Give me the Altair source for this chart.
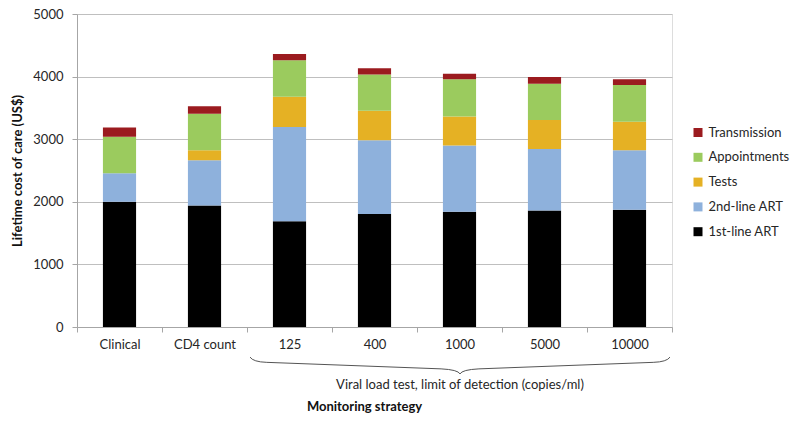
import altair as alt
import pandas as pd

strategies = ["Clinical", "CD4 count", "125", "400", "1000", "5000", "10000"]
first_line = [2000, 1940, 1690, 1805, 1840, 1860, 1875]
second_line = [455, 725, 1505, 1180, 1060, 985, 950]
tests = [0, 158, 484, 469, 463, 463, 453]
appointments = [585, 584, 584, 579, 595, 579, 589]
transmission = [147, 121, 100, 100, 89, 105, 90]

components = ["Transmission", "Appointments", "Tests", "2nd-line ART", "1st-line ART"]
colors = ["#9B1B1F", "#9BCB5E", "#E5B124", "#8EB1DC", "#000000"]
stack_order = {"1st-line ART": 0, "2nd-line ART": 1, "Tests": 2, "Appointments": 3, "Transmission": 4}

series = {
    "1st-line ART": first_line,
    "2nd-line ART": second_line,
    "Tests": tests,
    "Appointments": appointments,
    "Transmission": transmission,
}

rows = []
for comp, vals in series.items():
    for s, v in zip(strategies, vals):
        rows.append({"strategy": s, "component": comp, "value": v, "order": stack_order[comp]})
df = pd.DataFrame(rows)

FONT = "Lato"
TXT = "#262626"

bars = alt.Chart(df).mark_bar(width=alt.RelativeBandSize(0.39)).encode(
    x=alt.X(
        "strategy:N",
        sort=strategies,
        scale=alt.Scale(paddingInner=0, paddingOuter=0),
        axis=alt.Axis(
            tickBand="extent",
            labelAngle=0,
            labelFont=FONT,
            labelFontSize=13,
            labelColor=TXT,
            labelPadding=6,
            tickSize=5,
            tickColor="#A6A6A6",
            domainColor="#A6A6A6",
            title="Monitoring strategy",
            titleFont=FONT,
            titleFontSize=13,
            titleFontWeight="bold",
            titleColor="#111111",
            titleX=287,
            titleY=79,
            titleAlign="center",
            titleBaseline="middle",
        ),
    ),
    y=alt.Y(
        "value:Q",
        stack="zero",
        scale=alt.Scale(domain=[0, 5000], nice=False),
        axis=alt.Axis(
            values=[0, 1000, 2000, 3000, 4000, 5000],
            format="d",
            grid=True,
            gridColor="#BFBFBF",
            domainColor="#A6A6A6",
            tickColor="#A6A6A6",
            tickSize=5,
            labelPadding=9,
            labelFont=FONT,
            labelFontSize=13,
            labelColor=TXT,
            title="Lifetime cost of care (US$)",
            titleFont=FONT,
            titleFontSize=13,
            titleFontWeight="bold",
            titleColor="#111111",
            titleAngle=270,
            titleX=-60,
            titleY=156.5,
            titleAlign="center",
            titleBaseline="middle",
        ),
    ),
    color=alt.Color(
        "component:N",
        scale=alt.Scale(domain=components, range=colors),
        title=None,
        legend=alt.Legend(
            orient="none",
            legendX=614.5,
            legendY=112,
            padding=0,
            symbolType="square",
            symbolSize=81,
            symbolStrokeWidth=0,
            labelFont=FONT,
            labelFontSize=13,
            labelColor=TXT,
            labelOffset=4,
            rowPadding=10.8,
        ),
    ),
    order=alt.Order("order:Q", sort="ascending"),
)

note_df = pd.DataFrame({"t": ["Viral load test, limit of detection (copies/ml)"]})
note = alt.Chart(note_df).mark_text(
    font=FONT, fontSize=13, color=TXT, align="center", baseline="middle"
).encode(text="t:N", x=alt.value(383), y=alt.value(371))

brace_path = (
    "M -1 -0.040 Q -0.985 -0.017 -0.92 -0.015 "
    "L -0.09 0.016 Q -0.01 0.02 0 0.040 "
    "Q 0.01 0.02 0.09 0.016 L 0.92 -0.015 "
    "Q 0.985 -0.017 1 -0.040"
)
brace = alt.Chart(note_df).mark_point(
    shape=brace_path, size=176400, filled=False, stroke="#555555", strokeWidth=1, opacity=1
).encode(x=alt.value(383), y=alt.value(351.5))

chart = alt.layer(bars, note, brace).properties(
    width=595,
    height=313,
    padding={"left": 69, "top": 6, "right": 120, "bottom": 87},
    autosize=alt.AutoSizeParams(type="none"),
).configure_view(stroke="transparent").configure(background="white")

chart.save("out.html", embed_options={"renderer": "svg", "actions": False})
